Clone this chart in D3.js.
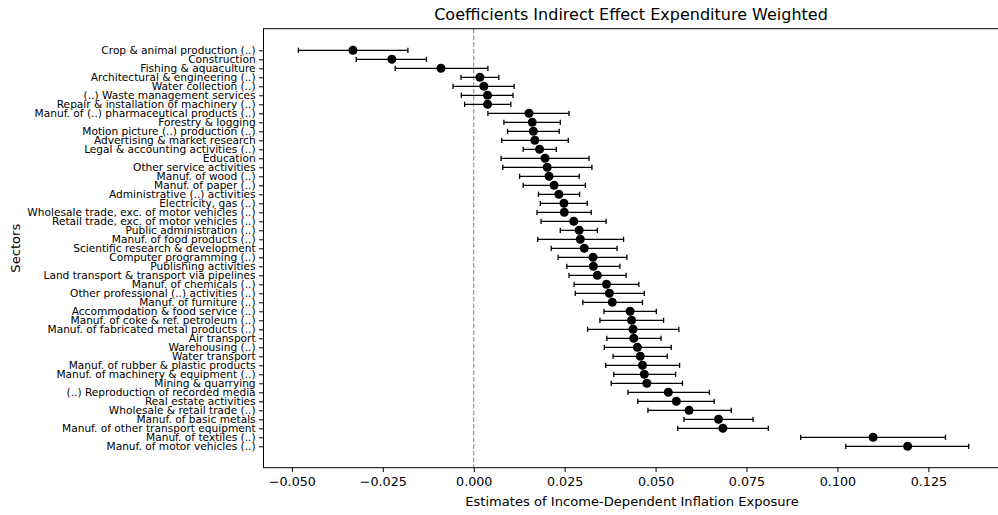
<!DOCTYPE html>
<html><head><meta charset="utf-8">
<script src="https://cdn.jsdelivr.net/npm/d3@7"></script>
<style>body{margin:0;background:#fff}svg{display:block}text{font-family:"DejaVu Sans",sans-serif}</style>
</head><body>
<svg id="c" width="998" height="515"></svg>
<script>
const categories = [
"Crop & animal production (..)","Construction","Fishing & aquaculture","Architectural & engineering (..)",
"Water collection (..)","(..) Waste management services","Repair & installation of machinery (..)",
"Manuf. of (..) pharmaceutical products (..)","Forestry & logging","Motion picture (..) production (..)",
"Advertising & market research","Legal & accounting activities (..)","Education","Other service activities",
"Manuf. of wood (..)","Manuf. of paper (..)","Administrative (..) activities","Electricity, gas (..)",
"Wholesale trade, exc. of motor vehicles (..)","Retail trade, exc. of motor vehicles (..)",
"Public administration (..)","Manuf. of food products (..)","Scientific research & development",
"Computer programming (..)","Publishing activities","Land transport & transport via pipelines",
"Manuf. of chemicals (..)","Other professional (..) activities (..)","Manuf. of furniture (..)",
"Accommodation & food service (..)","Manuf. of coke & ref. petroleum (..)","Manuf. of fabricated metal products (..)",
"Air transport","Warehousing (..)","Water transport","Manuf. of rubber & plastic products",
"Manuf. of machinery & equipment (..)","Mining & quarrying","(..) Reproduction of recorded media",
"Real estate activities","Wholesale & retail trade (..)","Manuf. of basic metals",
"Manuf. of other transport equipment","Manuf. of textiles (..)","Manuf. of motor vehicles (..)"
];
const estimates = [-0.0332,-0.0225,-0.0090,0.0017,0.0028,0.0038,0.0038,0.0152,0.0161,0.0164,0.0168,0.0181,
0.0196,0.0202,0.0207,0.0221,0.0234,0.0248,0.0249,0.0275,0.0290,0.0293,0.0304,0.0328,0.0329,0.0340,
0.0365,0.0373,0.0381,0.0430,0.0434,0.0438,0.0440,0.0450,0.0458,0.0464,0.0469,0.0476,0.0535,0.0557,
0.0592,0.0673,0.0685,0.1098,0.1193];
const lower = [-0.0482,-0.0323,-0.0216,-0.0035,-0.0057,-0.0034,-0.0025,0.0039,0.0083,0.0093,0.0077,0.0136,
0.0075,0.0080,0.0126,0.0136,0.0178,0.0183,0.0174,0.0185,0.0238,0.0176,0.0213,0.0232,0.0256,0.0262,
0.0276,0.0279,0.0300,0.0358,0.0347,0.0313,0.0366,0.0359,0.0383,0.0363,0.0385,0.0378,0.0424,0.0451,
0.0479,0.0578,0.0561,0.0899,0.1023];
const upper = [-0.0181,-0.0130,0.0039,0.0069,0.0111,0.0108,0.0102,0.0262,0.0238,0.0235,0.0260,0.0227,
0.0317,0.0325,0.0290,0.0307,0.0291,0.0312,0.0323,0.0364,0.0340,0.0412,0.0394,0.0421,0.0402,0.0419,
0.0454,0.0469,0.0464,0.0502,0.0522,0.0564,0.0515,0.0543,0.0532,0.0566,0.0555,0.0574,0.0648,0.0661,
0.0708,0.0768,0.0810,0.1297,0.1361];
const xTicks = [-0.05,-0.025,0,0.025,0.05,0.075,0.1,0.125];
const title = "Coefficients Indirect Effect Expenditure Weighted";
const xLabel = "Estimates of Income-Dependent Inflation Exposure";
const yLabel = "Sectors";

const svg = d3.select("#c");
const L = 263.5, R = 1002.2, T = 28.7, B = 467.7;
const x = d3.scaleLinear().domain([-0.0578, 0.1453]).range([L, R]);
const y = d3.scalePoint().domain(categories).range([50.3, 446.3]);

// zero line
svg.append("line").attr("x1", x(0)).attr("x2", x(0)).attr("y1", T).attr("y2", B)
  .attr("stroke", "#808080").attr("stroke-width", 1).attr("stroke-dasharray", "4.7,2");

// error bars
const rows = categories.map((c, i) => ({c, v: estimates[i], lo: lower[i], hi: upper[i]}));
const g = svg.append("g");
g.selectAll("line.eb").data(rows).join("line").attr("class","eb")
  .attr("x1", d => x(d.lo)).attr("x2", d => x(d.hi)).attr("y1", d => y(d.c)).attr("y2", d => y(d.c))
  .attr("stroke", "#000").attr("stroke-width", 1.3);
["lo","hi"].forEach(k => {
  g.selectAll("line.cap"+k).data(rows).join("line").attr("class","cap"+k)
    .attr("x1", d => x(d[k])).attr("x2", d => x(d[k])).attr("y1", d => y(d.c) - 2.6).attr("y2", d => y(d.c) + 2.6)
    .attr("stroke", "#000").attr("stroke-width", 1.3);
});
g.selectAll("circle").data(rows).join("circle")
  .attr("cx", d => x(d.v)).attr("cy", d => y(d.c)).attr("r", 4.5).attr("fill", "#000");

// frame
svg.append("rect").attr("x", L).attr("y", T).attr("width", R - L).attr("height", B - T)
  .attr("fill", "none").attr("stroke", "#000").attr("stroke-width", 1);

// axes
const xa = svg.append("g").attr("transform", `translate(0,${B})`)
  .call(d3.axisBottom(x).tickValues(xTicks).tickFormat(d3.format(".3f")).tickSize(4.4).tickSizeOuter(0).tickPadding(4.5));
xa.select(".domain").remove();
xa.selectAll("text").attr("font-size", 12.7).attr("fill", "#000").attr("font-family", "DejaVu Sans")
  .text(d => d3.format(".3f")(d).replace("-", "\u2212"));
xa.selectAll("line").attr("stroke", "#000");

const ya = svg.append("g").attr("transform", `translate(${L},0)`)
  .call(d3.axisLeft(y).tickSize(4.4).tickSizeOuter(0).tickPadding(3.5));
ya.select(".domain").remove();
ya.selectAll("text").attr("font-size", 10.6).attr("fill", "#000").attr("font-family", "DejaVu Sans");
ya.selectAll("line").attr("stroke", "#000");

svg.append("text").attr("x", 631).attr("y", 20).attr("text-anchor", "middle")
  .attr("font-size", 16).attr("fill", "#000").text(title);
svg.append("text").attr("x", 632).attr("y", 505.5).attr("text-anchor", "middle")
  .attr("font-size", 13.1).attr("fill", "#000").text(xLabel);
svg.append("text").attr("transform", `translate(20,${(T + B) / 2}) rotate(-90)`).attr("text-anchor", "middle")
  .attr("font-size", 13.1).attr("fill", "#000").text(yLabel);
</script>
</body></html>
